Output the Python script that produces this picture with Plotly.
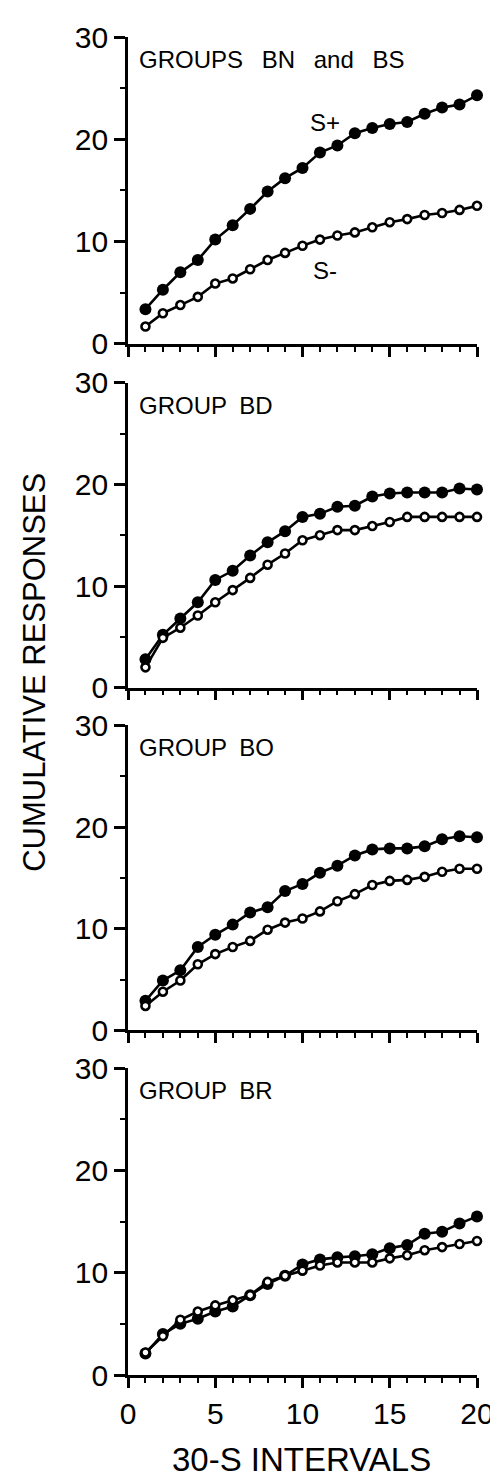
import plotly.graph_objects as go

intervals = list(range(1, 21))

groups = ["GROUPS BN and BS", "GROUP BD", "GROUP BO", "GROUP BR"]
group_word_gap = [12, 6, 6, 6]

splus_bn_bs = [3.4, 5.3, 7.0, 8.2, 10.2, 11.6, 13.2, 14.9, 16.2, 17.2, 18.7, 19.4, 20.6, 21.1, 21.5, 21.7, 22.5, 23.1, 23.4, 24.3]
sminus_bn_bs = [1.7, 3.0, 3.8, 4.6, 5.9, 6.4, 7.3, 8.2, 8.9, 9.6, 10.2, 10.6, 10.9, 11.4, 11.9, 12.2, 12.6, 12.8, 13.1, 13.5]

splus_bd = [2.8, 5.2, 6.8, 8.4, 10.6, 11.5, 13.0, 14.3, 15.4, 16.8, 17.1, 17.8, 17.9, 18.8, 19.1, 19.2, 19.2, 19.2, 19.6, 19.5]
sminus_bd = [2.0, 4.9, 5.9, 7.1, 8.4, 9.6, 10.8, 12.1, 13.2, 14.5, 15.0, 15.5, 15.5, 15.9, 16.3, 16.8, 16.8, 16.8, 16.8, 16.8]

splus_bo = [2.9, 4.9, 5.9, 8.2, 9.4, 10.4, 11.6, 12.1, 13.7, 14.4, 15.5, 16.2, 17.2, 17.8, 17.9, 17.9, 18.1, 18.8, 19.1, 19.0]
sminus_bo = [2.4, 3.8, 4.9, 6.5, 7.5, 8.2, 8.8, 9.9, 10.6, 11.0, 11.7, 12.7, 13.4, 14.3, 14.7, 14.8, 15.1, 15.6, 15.9, 15.9]

splus_br = [2.1, 4.0, 5.0, 5.5, 6.2, 6.7, 7.8, 8.9, 9.7, 10.8, 11.3, 11.5, 11.6, 11.8, 12.4, 12.7, 13.8, 14.0, 14.8, 15.5]
sminus_br = [2.2, 3.8, 5.4, 6.2, 6.8, 7.3, 7.8, 9.1, 9.7, 10.2, 10.7, 11.0, 11.0, 11.0, 11.4, 11.7, 12.2, 12.5, 12.8, 13.1]

splus_series = [splus_bn_bs, splus_bd, splus_bo, splus_br]
sminus_series = [sminus_bn_bs, sminus_bd, sminus_bo, sminus_br]

y_ticks = [0, 10, 20, 30]
x_ticks = [0, 5, 10, 15, 20]

# panel domains (paper fractions)
domains = [[0.7706, 1.0], [0.5137, 0.7416], [0.2576, 0.4855], [0.0, 0.2294]]

fig = go.Figure()
for i in range(4):
    xa = "x" if i == 0 else f"x{i+1}"
    ya = "y" if i == 0 else f"y{i+1}"
    fig.add_trace(go.Scatter(
        x=intervals, y=splus_series[i], xaxis=xa, yaxis=ya, mode="lines+markers",
        line=dict(color="black", width=2.6),
        marker=dict(symbol="circle", size=12, color="black"),
        cliponaxis=False, showlegend=False))
    fig.add_trace(go.Scatter(
        x=intervals, y=sminus_series[i], xaxis=xa, yaxis=ya, mode="lines+markers",
        line=dict(color="black", width=2.6),
        marker=dict(symbol="circle", size=8, color="white", line=dict(color="black", width=2.6)),
        cliponaxis=False, showlegend=False))

base_family = "Liberation Sans, Arial, sans-serif"
tick_font = dict(family=base_family, size=30, color="black")
layout = dict(
    width=498, height=1478,
    margin=dict(l=120, r=21, t=20, b=111),
    paper_bgcolor="white", plot_bgcolor="white",
)
for i in range(4):
    xk = "xaxis" if i == 0 else f"xaxis{i+1}"
    yk = "yaxis" if i == 0 else f"yaxis{i+1}"
    ya = "y" if i == 0 else f"y{i+1}"
    xa = "x" if i == 0 else f"x{i+1}"
    layout[xk] = dict(
        domain=[0, 1], anchor=ya, range=[0, 20],
        showline=True, linecolor="black", linewidth=2.6,
        showgrid=False, zeroline=False,
        tickmode="array", tickvals=x_ticks, ticktext=[str(v) for v in x_ticks],
        showticklabels=(i == 3),
        ticks="outside", ticklen=10, tickwidth=2.6, tickcolor="black",
        minor=dict(dtick=1, tick0=0, ticks="outside", ticklen=5, tickwidth=2, tickcolor="black", showgrid=False),
        tickfont=tick_font, fixedrange=True,
    )
    layout[yk] = dict(
        domain=domains[i], anchor=xa, range=[0, 30],
        showline=True, linecolor="black", linewidth=2.6,
        showgrid=False, zeroline=False,
        tickmode="array", tickvals=y_ticks, ticktext=[str(v) for v in y_ticks],
        ticks="outside", ticklen=11, tickwidth=2.6, tickcolor="black",
        minor=dict(dtick=5, tick0=0, ticks="outside", ticklen=5, tickwidth=2, tickcolor="black", showgrid=False),
        tickfont=tick_font, fixedrange=True,
    )
fig.update_layout(**layout)

label_font = dict(family=base_family, size=24, color="black")
for i in range(4):
    xa = "x" if i == 0 else f"x{i+1}"
    ya = "y" if i == 0 else f"y{i+1}"
    fig.add_annotation(x=0.5, y=27.8, xref=xa, yref=ya,
                       text=f'<span style="word-spacing:{group_word_gap[i]}px">{groups[i]}</span>',
                       showarrow=False, xanchor="left", yanchor="middle", font=label_font)

fig.add_annotation(x=11.28, y=21.6, xref="x", yref="y", text="S+", showarrow=False,
                   xanchor="center", yanchor="middle", font=label_font)
fig.add_annotation(x=11.28, y=7.15, xref="x", yref="y", text="S-", showarrow=False,
                   xanchor="center", yanchor="middle", font=label_font)

fig.add_annotation(x=-0.266, y=0.5249, xref="paper", yref="paper", text="CUMULATIVE RESPONSES",
                   textangle=-90, showarrow=False, xanchor="center", yanchor="middle",
                   font=dict(family=base_family, size=31, color="black"))
fig.add_annotation(x=0.497, y=-0.0635, xref="paper", yref="paper", text="30-S INTERVALS",
                   showarrow=False, xanchor="center", yanchor="middle",
                   font=dict(family=base_family, size=33, color="black"))

fig.write_html("out.html")
